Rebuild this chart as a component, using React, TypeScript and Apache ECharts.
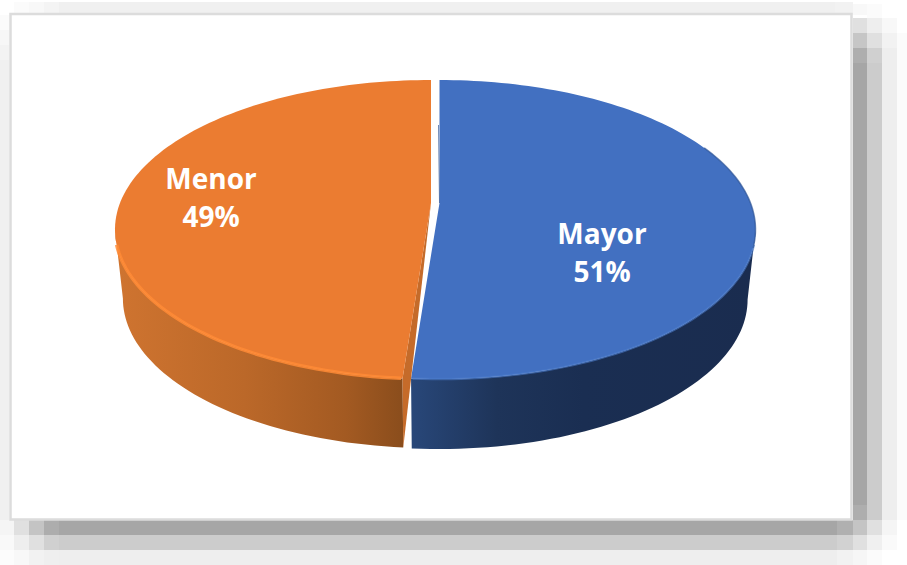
import React, { useEffect, useRef } from "react";
import * as echarts from "echarts";

const CATEGORIES = ["Mayor", "Menor"];
const VALUES = [51.2, 48.8];
const TOP_COLORS = ["#4270c1", "#eb7c31"];
const RIM_COLORS = ["#4b7bcb", "#ff8b36"];

const W = 907;
const H = 565;
const APEX_Y = 203;
const TOP_Y = 80;
const BOTTOM_Y = 379;
const RX = 316;
const OFFSET_X = [439.5, 431];
const DEPTHS = [70, 69];
const BOTTOM_SCALE = 0.975;
const LABEL_AT = [[602, 252], [211, 197]];
const LABEL_FONT = "'Open Sans', Lato, sans-serif";

// projective mapping of a circular pie seen in perspective
const C = (2 * APEX_Y - TOP_Y - BOTTOM_Y) / (TOP_Y - BOTTOM_Y);
const B = TOP_Y * (1 + C) - APEX_Y;
const K = RX * Math.sqrt(1 - C * C);
const WIDE = Math.acos(-C);

function project(cx: number, theta: number, depth = 0): number[] {
  const u = Math.sin(theta);
  const v = Math.cos(theta);
  const d = 1 + C * v;
  const s = depth ? BOTTOM_SCALE : 1;
  return [cx + (s * K * u) / d, (APEX_Y + B * v) / d + depth];
}

function arc(cx: number, from: number, to: number, depth = 0): number[][] {
  const n = Math.max(2, Math.ceil((Math.abs(to - from) / Math.PI) * 120));
  const out: number[][] = [];
  for (let i = 0; i <= n; i++) out.push(project(cx, from + ((to - from) * i) / n, depth));
  return out;
}

const SHADOW: [number, number, number, number, string][] = [
  [14, 2, 15, 13, "#fbfbfb"], [29, 2, 15, 13, "#f8f8f8"], [44, 2, 15, 13, "#f4f4f4"], [59, 2, 776, 13, "#f0f0f0"],
  [835, 2, 18, 13, "#f2f2f2"], [853, 4, 14, 11, "#f8f8f8"], [867, 4, 15, 14, "#fbfbfb"],
  [0, 15, 9, 15, "#fbfbfb"], [0, 30, 9, 15, "#f7f7f7"], [0, 45, 9, 15, "#f3f3f3"], [0, 60, 9, 460, "#f0f0f0"],
  [853, 18, 14, 15, "#e0e0e0"], [867, 18, 15, 15, "#eeeeee"], [882, 18, 15, 15, "#f8f8f8"],
  [853, 33, 14, 15, "#c6c6c6"], [867, 33, 15, 15, "#e0e0e0"], [882, 33, 15, 15, "#f2f2f2"], [897, 33, 10, 15, "#fbfbfb"],
  [853, 48, 14, 15, "#aeaeae"], [867, 48, 15, 15, "#d0d0d0"], [882, 48, 15, 15, "#eeeeee"], [897, 48, 10, 15, "#fbfbfb"],
  [853, 63, 14, 442, "#a6a6a6"], [867, 63, 15, 457, "#cccccc"], [882, 63, 15, 457, "#eeeeee"], [897, 63, 10, 457, "#fbfbfb"],
  [853, 505, 14, 15, "#aeaeae"],
  [0, 520, 14, 15, "#f5f5f5"], [14, 520, 15, 15, "#e0e0e0"], [29, 520, 15, 15, "#c4c4c4"], [44, 520, 15, 15, "#adadad"],
  [59, 520, 778, 15, "#a6a6a6"], [837, 520, 16, 15, "#b0b0b0"], [853, 520, 14, 15, "#c4c4c4"], [867, 520, 15, 15, "#e0e0e0"], [882, 520, 15, 15, "#f5f5f5"],
  [0, 535, 14, 15, "#f9f9f9"], [14, 535, 15, 15, "#eeeeee"], [29, 535, 15, 15, "#e0e0e0"], [44, 535, 15, 15, "#d0d0d0"],
  [59, 535, 778, 15, "#cccccc"], [837, 535, 16, 15, "#d2d2d2"], [853, 535, 14, 15, "#e0e0e0"], [867, 535, 15, 15, "#f0f0f0"], [882, 535, 15, 15, "#fafafa"],
  [0, 550, 14, 15, "#fcfcfc"], [14, 550, 15, 15, "#f8f8f8"], [29, 550, 15, 15, "#f2f2f2"], [44, 550, 15, 15, "#efefef"],
  [59, 550, 778, 15, "#eeeeee"], [837, 550, 16, 15, "#f2f2f2"], [853, 550, 14, 15, "#f6f6f6"], [867, 550, 15, 15, "#fbfbfb"],
];

const SIDE_GRADIENTS = [
  [[0, "#284779"], [0.25, "#1e3459"], [0.5, "#1a2e52"], [1, "#1a2c4f"]],
  [[0, "#cf7430"], [0.45, "#bb6829"], [0.8, "#a35a22"], [1, "#8a4d1c"]],
];

function linear(stops: any[]) {
  return {
    type: "linear", x: 0, y: 0, x2: 1, y2: 0,
    colorStops: stops.map(([offset, color]) => ({ offset, color })),
  };
}

function renderSlice(params: any, api: any) {
  const i = params.dataIndex;
  const total = VALUES.reduce((a, b) => a + b, 0);
  const before = VALUES.slice(0, i).reduce((a, b) => a + b, 0);
  const from = (before / total) * 2 * Math.PI;
  const to = ((before + api.value(0)) / total) * 2 * Math.PI;
  const cx = OFFSET_X[i];
  const depth = DEPTHS[i];
  const apex = [cx, APEX_Y];
  const children: any[] = [];

  const sideFrom = Math.max(from, WIDE);
  const sideTo = Math.min(to, 2 * Math.PI - WIDE);
  const topFront = arc(cx, sideFrom, sideTo);
  const bottomFront = arc(cx, sideFrom, sideTo, depth);
  children.push({
    type: "polygon",
    shape: { points: [...topFront, ...bottomFront.reverse()] },
    style: { fill: linear(SIDE_GRADIENTS[i]) },
  });

  if (from > 0) {
    const rim = project(cx, from);
    const rimLow = project(cx, from, depth);
    children.push({
      type: "polygon",
      shape: { points: [apex, rim, rimLow] },
      style: { fill: "#c56b2a" },
    });
  }

  children.push({
    type: "polygon",
    shape: { points: [apex, ...arc(cx, from, to)] },
    style: { fill: TOP_COLORS[i] },
  });

  // rim highlight, kept just inside the top face so it does not poke past the silhouette
  const rimFrom = sideFrom + (i === 0 ? 0.1 : 0.004);
  const rimTo = sideTo - (i === 0 ? 0.004 : 0.1);
  children.push({
    type: "polyline",
    shape: { points: arc(cx, rimFrom, rimTo) },
    style: { fill: "none", stroke: RIM_COLORS[i], lineWidth: i === 0 ? 2.5 : 3.5, opacity: i === 0 ? 0.6 : 0.85 },
  });

  if (i === 0) {
    children.push({
      type: "polyline",
      shape: { points: arc(cx, from + 1.15, WIDE + 0.12) },
      style: { fill: "none", stroke: "#2f5597", lineWidth: 1.5, opacity: 0.7 },
    });
    children.push({
      type: "polyline",
      shape: { points: [[cx - 1, TOP_Y + 45], apex] },
      style: { fill: "none", stroke: "#2f5597", lineWidth: 1, opacity: 0.7 },
    });
  }

  const pct = Math.round((api.value(0) / total) * 100) + "%";
  children.push({
    type: "text",
    style: {
      x: LABEL_AT[i][0],
      y: LABEL_AT[i][1],
      text: CATEGORIES[i] + "\n" + pct,
      fill: "#ffffff",
      font: "bold 28px " + LABEL_FONT,
      lineHeight: 38,
      align: "center",
      verticalAlign: "middle",
    },
  });
  return { type: "group", children };
}

export default function App() {
  const ref = useRef<HTMLDivElement>(null);
  useEffect(() => {
    document.body.style.margin = "0";
    document.body.style.background = "#ffffff";
    const chart = echarts.init(ref.current!, null, { renderer: "svg" });
    chart.setOption({
      animation: false,
      backgroundColor: "#ffffff",
      graphic: {
        elements: [
          ...SHADOW.map(([x, y, width, height, fill]) => ({
            type: "rect", silent: true, shape: { x, y, width, height }, style: { fill },
          })),
          {
            type: "rect", silent: true,
            shape: { x: 10.5, y: 14, width: 841, height: 505.5 },
            style: { fill: "#ffffff", stroke: "#dcdcdc", lineWidth: 2.5 },
          },
        ],
      },
      series: [
        {
          type: "custom",
          coordinateSystem: "none",
          silent: true,
          z: 5,
          data: VALUES.map((v) => [v]),
          renderItem: renderSlice,
        },
      ],
    });
    return () => chart.dispose();
  }, []);
  return <div ref={ref} style={{ position: "absolute", left: 0, top: 0, width: W, height: H }} />;
}
